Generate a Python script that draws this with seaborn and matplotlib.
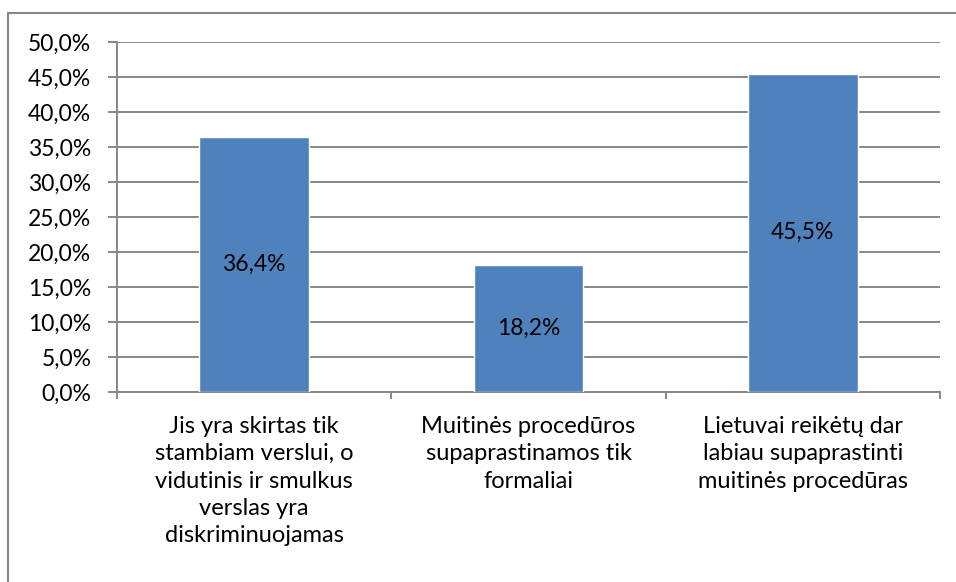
import matplotlib
matplotlib.use("Agg")
import matplotlib.pyplot as plt
import seaborn as sns
import pandas as pd
from matplotlib.ticker import FuncFormatter, MultipleLocator, FixedLocator
from matplotlib.patches import Rectangle

categories = [
    "Jis yra skirtas tik\nstambiam verslui, o\nvidutinis ir smulkus\nverslas yra\ndiskriminuojamas",
    "Muitinės procedūros\nsupaprastinamos tik\nformaliai",
    "Lietuvai reikėtų dar\nlabiau supaprastinti\nmuitinės procedūras",
]
values = [36.4, 18.2, 45.5]

BAR_COLOR = "#4F81BD"
GRID_COLOR = "#878787"
FS = 16.5

sns.set_theme(style="white")
plt.rcParams["font.family"] = ["Lato", "DejaVu Sans"]

df = pd.DataFrame({"cat": categories, "val": values})

fig = plt.figure(figsize=(9.56, 5.82), dpi=100)
ax = fig.add_axes([117 / 956, 1 - 392 / 582, (940 - 117) / 956, (392 - 42) / 582])

sns.barplot(data=df, x="cat", y="val", color=BAR_COLOR, saturation=1,
            width=0.4, ax=ax, zorder=3)

ax.set_ylim(0, 50)
ax.set_xlim(-0.5, 2.5)
ax.yaxis.set_major_locator(MultipleLocator(5))
ax.yaxis.set_major_formatter(FuncFormatter(lambda v, _: f"{v:.1f}%".replace(".", ",")))
ax.grid(axis="y", color=GRID_COLOR, linewidth=1.4, zorder=0)
ax.set_axisbelow(True)

for s in ["top", "right"]:
    ax.spines[s].set_visible(False)
for s in ["left", "bottom"]:
    ax.spines[s].set_color(GRID_COLOR)
    ax.spines[s].set_linewidth(1.4)

ax.tick_params(axis="y", length=6.5, width=1.4, color=GRID_COLOR, labelsize=FS, pad=12,
               left=True, labelcolor="black")
ax.tick_params(axis="x", length=0, labelsize=FS + 0.5, pad=17, labelcolor="black")
ax.xaxis.set_minor_locator(FixedLocator([-0.5, 0.5, 1.5, 2.5]))
ax.tick_params(axis="x", which="minor", length=5, width=1.4, color=GRID_COLOR, bottom=True)
for lbl in ax.get_xticklabels():
    lbl.set_linespacing(1.38)
    lbl.set_verticalalignment("top")
ax.set_xlabel("")
ax.set_ylabel("")

for i, v in enumerate(values):
    ax.text(i, v / 2, f"{v:.1f}%".replace(".", ","), ha="center", va="center",
            fontsize=FS, color="black", zorder=4)

fig.patches.append(Rectangle((8 / 956, -0.1), 1.1, 1 - 13 / 582 + 0.1,
                             transform=fig.transFigure, fill=False,
                             edgecolor=GRID_COLOR, linewidth=1.5))

fig.savefig("out.png", dpi=100, facecolor="white")
